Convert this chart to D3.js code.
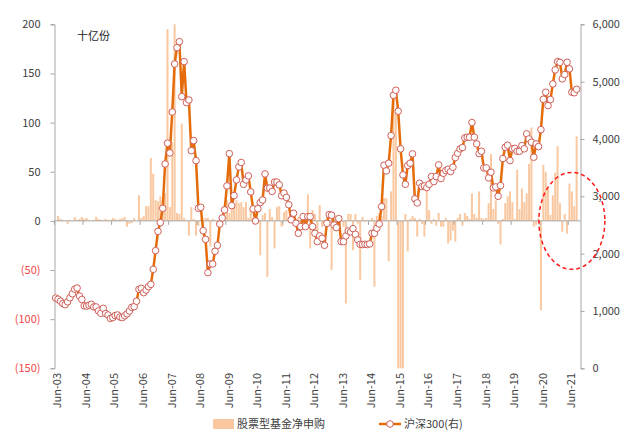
<!DOCTYPE html>
<html>
<head>
<meta charset="utf-8">
<script src="https://cdn.jsdelivr.net/npm/d3@7"></script>
<style>
  body { margin: 0; background: #fff; }
  svg { display: block; font-family: "Noto Sans CJK SC", "Noto Sans", sans-serif; }
</style>
</head>
<body>
<svg id="chart" width="640" height="444"></svg>
<script>
// monthly categories Jun-03 .. Sep-21
const months = d3.timeMonth.range(new Date(2003, 5, 1), new Date(2021, 9, 1)).map(d3.timeFormat("%b-%y"));

const xTickLabels = ["Jun-03", "Jun-04", "Jun-05", "Jun-06", "Jun-07", "Jun-08", "Jun-09", "Jun-10", "Jun-11",
    "Jun-12", "Jun-13", "Jun-14", "Jun-15", "Jun-16", "Jun-17", "Jun-18", "Jun-19", "Jun-20", "Jun-21"];
const leftTicks = [-150, -100, -50, 0, 50, 100, 150, 200];
const rightTicks = [0, 1000, 2000, 3000, 4000, 5000, 6000];

// equity fund net subscription, bn units (one value per month, Jun-03 first)
const netSub = [
    0, 5, 2, 1, 0, -3, 1, 0, 4, 1, 2, 4,
    2, 3, 1, 0, 1, 4, 2, 1, 1, 2, 1, 1,
    3, 2, 1, 2, 3, 4, -6, -3, -2, 3, 0, 26,
    3, 5, 15, 15, 64, 48, 21, 20, 25, 21, 28, 195,
    14, 80, 205, 8, 7, 99, 3, 1, -15, 14, 2, -15,
    -5, 2, -15, 3, 3, -26, 2, 1, -4, 3, 3, 14,
    21, 8, 17, 16, 21, 18, 19, 14, 19, 3, 12, 3,
    16, -1, -35, 6, 8, -57, 12, 4, -28, 14, 15, -6,
    9, 11, 4, 9, 8, 1, 4, -1, 4, 7, 27, -28,
    11, 7, -12, 16, -6, 1, 4, -1, -50, 4, 5, -3,
    1, -6, -84, 7, 7, -30, 7, -3, -60, 4, -1, 1,
    1, 3, -67, 5, 8, 5, 23, 23, -41, 30, 133, 110,
    -155, -175, -160, 7, -31, 2, 5, 3, -16, 2, -3, -16,
    38, 11, -3, 2, -5, 8, -6, -6, 3, -23, -20, -10,
    -21, 3, 7, -5, 8, 5, 2, 28, 7, 3, 30, 3,
    2, 3, 18, 68, 12, 21, -3, -24, 2, 18, 25, 30,
    19, 2, 52, 12, 33, 19, 28, 58, 95, -6, -4, 3,
    -91, 57, 50, 35, 6, 26, 49, 76, 18, -11, 7, -13,
    38, 30, 15, 86
];

// CSI 300 month-end level (right axis)
const csi300 = [
    1225, 1205, 1170, 1130, 1110, 1160, 1230, 1300, 1380, 1400, 1260, 1200,
    1090, 1085, 1100, 1115, 1070, 1070, 1000, 960, 1046, 955, 930, 870,
    885, 920, 930, 895, 885, 915, 950, 1000, 1063, 1075, 1170, 1377,
    1394, 1319, 1366, 1424, 1464, 1726, 2052, 2389, 2540, 2791, 3564, 3926,
    3757, 4470, 5308, 5592, 5697, 4738, 5349, 4634, 4680, 3796, 3971, 3622,
    2791, 2808, 2401, 2249, 1668, 1820, 1820, 2041, 2145, 2517, 2622, 2762,
    3181, 3745, 2838, 3013, 3286, 3513, 3589, 3210, 3286, 3356, 3077, 2780,
    2570, 2785, 2890, 2936, 3390, 3143, 3143, 3085, 3248, 3248, 3201, 3010,
    3057, 2981, 2853, 2590, 2705, 2530, 2355, 2471, 2646, 2471, 2646, 2646,
    2471, 2355, 2210, 2309, 2268, 2145, 2529, 2681, 2670, 2500, 2454, 2611,
    2210, 2210, 2309, 2396, 2378, 2436, 2338, 2239, 2163, 2158, 2163, 2158,
    2170, 2355, 2355, 2443, 2518, 2820, 3542, 3443, 3577, 4059, 4763, 4850,
    4484, 3827, 3373, 3210, 3536, 3577, 3740, 2955, 2885, 3228, 3170, 3181,
    3152, 3210, 3344, 3257, 3344, 3548, 3309, 3402, 3449, 3472, 3431, 3507,
    3675, 3751, 3827, 3850, 4019, 4031, 4030, 4286, 4031, 3914, 3745, 3786,
    3495, 3495, 3321, 3420, 3146, 3164, 3000, 3187, 3658, 3856, 3891, 3623,
    3827, 3836, 3786, 3786, 3885, 3828, 4089, 4001, 3943, 3682, 3914, 3867,
    4163, 4693, 4815, 4582, 4687, 4960, 5205, 5350, 5336, 5048, 5124, 5337,
    5224, 4815, 4806, 4866
];

const barColor = "#f9c8a0";
const lineColor = "#e46c0a";
const markerStroke = "#cf5f58";
const axisColor = "#a6a6a6";
const textColor = "#404040";
const negColor = "#f24848";

const plotLeft = 54.5, plotRight = 580.5, plotTop = 24.3, plotBottom = 368.3;

const svg = d3.select("#chart");

const x = d3.scaleBand()
    .domain(months)
    .range([plotLeft, 577.8])
    .paddingInner(0.16)
    .paddingOuter(0.08);
const bw = x.bandwidth();
const gap = (x.step() - bw) / 2;

const yL = d3.scaleLinear().domain([-150, 200]).range([plotBottom, plotTop]).clamp(true);
const yR = d3.scaleLinear().domain([0, 6000]).range([plotBottom, plotTop]);

// bars
svg.append("g")
    .selectAll("rect")
    .data(netSub)
    .join("rect")
    .attr("x", (d, i) => x(months[i]))
    .attr("width", bw)
    .attr("y", d => yL(Math.max(0, d)))
    .attr("height", d => Math.abs(yL(d) - yL(0)))
    .attr("fill", barColor);

// zero line + category ticks
const y0 = yL(0);
svg.append("line")
    .attr("x1", plotLeft).attr("x2", plotRight)
    .attr("y1", y0).attr("y2", y0)
    .attr("stroke", axisColor).attr("stroke-width", 1);

svg.append("g")
    .selectAll("line")
    .data(xTickLabels)
    .join("line")
    .attr("x1", d => x(d) - gap).attr("x2", d => x(d) - gap)
    .attr("y1", y0).attr("y2", y0 + 4)
    .attr("stroke", axisColor);

svg.append("g")
    .selectAll("text")
    .data(xTickLabels)
    .join("text")
    .attr("transform", d => `translate(${x(d) - gap + 3},373) rotate(-90)`)
    .attr("dy", "0.35em")
    .attr("text-anchor", "end")
    .attr("font-size", 11)
    .attr("fill", textColor)
    .text(d => d);

// left axis
const fmtLeft = v => v < 0 ? `(${-v})` : `${v}`;
const gL = svg.append("g")
    .attr("transform", `translate(${plotLeft},0)`)
    .call(d3.axisLeft(yL).tickValues(leftTicks).tickSize(4).tickPadding(10).tickFormat(fmtLeft));
gL.select(".domain").attr("stroke", axisColor);
gL.selectAll(".tick line").attr("stroke", axisColor);
gL.selectAll(".tick text")
    .attr("font-size", 11)
    .attr("font-family", "'Noto Sans CJK SC', sans-serif")
    .attr("fill", d => d < 0 ? negColor : textColor);

// right axis
const gR = svg.append("g")
    .attr("transform", `translate(${plotRight},0)`)
    .call(d3.axisRight(yR).tickValues(rightTicks).tickSize(4).tickPadding(8).tickFormat(d3.format(",")));
gR.select(".domain").attr("stroke", axisColor);
gR.selectAll(".tick line").attr("stroke", axisColor);
gR.selectAll(".tick text")
    .attr("font-size", 11)
    .attr("font-family", "'Noto Sans CJK SC', sans-serif")
    .attr("fill", textColor);

// CSI 300 line with markers
const line = d3.line()
    .x((d, i) => x(months[i]) + bw / 2)
    .y(d => yR(d));

svg.append("path")
    .datum(csi300)
    .attr("fill", "none")
    .attr("stroke", lineColor)
    .attr("stroke-width", 2.5)
    .attr("stroke-linejoin", "round")
    .attr("d", line);

svg.append("g")
    .selectAll("circle")
    .data(csi300)
    .join("circle")
    .attr("cx", (d, i) => x(months[i]) + bw / 2)
    .attr("cy", d => yR(d))
    .attr("r", 3.3)
    .attr("fill", "#fff")
    .attr("stroke", markerStroke)
    .attr("stroke-width", 1);

// unit label
svg.append("text")
    .attr("x", 77).attr("y", 36)
    .attr("dy", "0.35em")
    .attr("font-size", 11)
    .attr("fill", "#222")
    .text("十亿份");

// highlight ellipse around the latest months
svg.append("ellipse")
    .attr("cx", x("Jul-21") + bw / 2)
    .attr("cy", y0)
    .attr("rx", 33)
    .attr("ry", 48.5)
    .attr("fill", "none")
    .attr("stroke", "#ff1a1a")
    .attr("stroke-width", 1.5)
    .attr("stroke-dasharray", "4,3");

// legend
const lg = svg.append("g").attr("font-size", 11).attr("fill", textColor);
lg.append("rect").attr("x", 213).attr("y", 419).attr("width", 21).attr("height", 10).attr("fill", barColor);
lg.append("text").attr("x", 237).attr("y", 424).attr("dy", "0.35em").text("股票型基金净申购");
lg.append("line").attr("x1", 379).attr("x2", 401).attr("y1", 424).attr("y2", 424)
    .attr("stroke", lineColor).attr("stroke-width", 2.5);
lg.append("circle").attr("cx", 390).attr("cy", 424).attr("r", 3.3)
    .attr("fill", "#fff").attr("stroke", markerStroke);
lg.append("text").attr("x", 404).attr("y", 424).attr("dy", "0.35em").text("沪深300(右)");
</script>
</body>
</html>
